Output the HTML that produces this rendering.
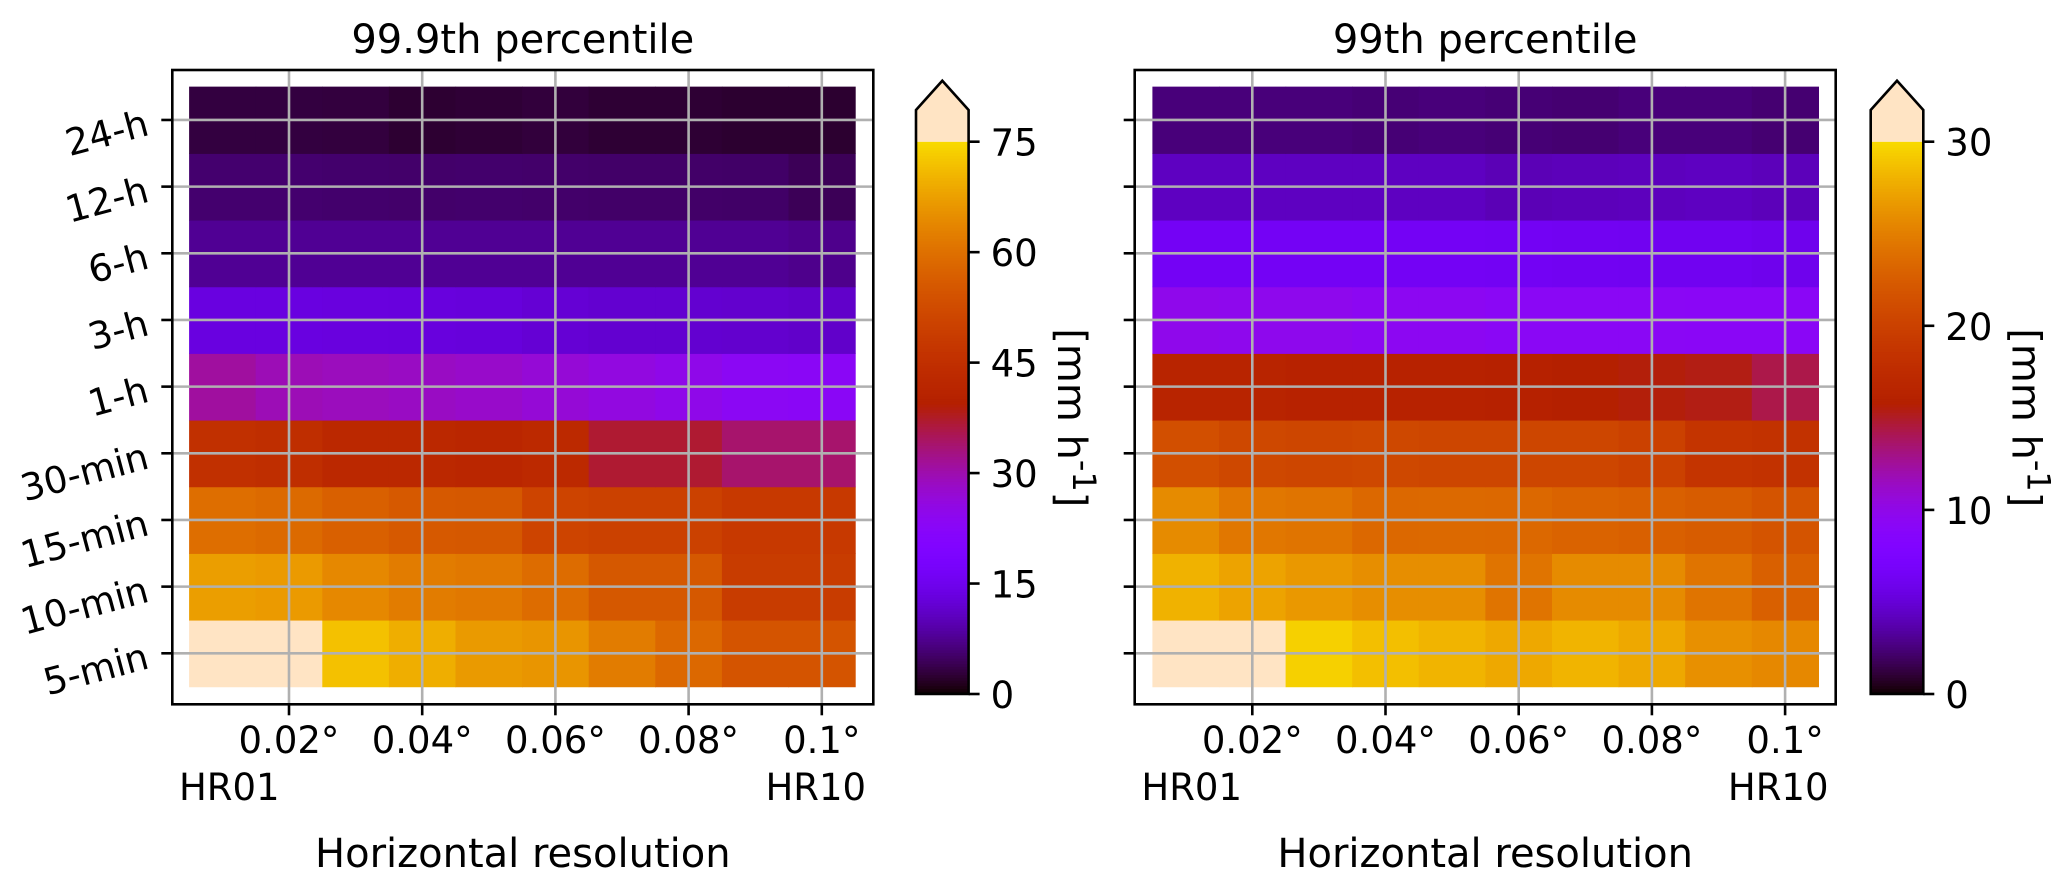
<!DOCTYPE html>
<html><head><meta charset="utf-8">
<style>
html,body{margin:0;padding:0;background:#fff;}
svg{display:block;font-family:"DejaVu Sans","Liberation Sans",sans-serif;}
</style></head>
<body>
<svg id="fig" width="2067" height="892" viewBox="0 0 2067 892" xmlns="http://www.w3.org/2000/svg"></svg>
<script>
// ---- data ----
const resolutions = [0.01,0.02,0.03,0.04,0.05,0.06,0.07,0.08,0.09,0.1];
const durations = ['5-min','10-min','15-min','30-min','1-h','3-h','6-h','12-h','24-h'];
const xTickValues = [0.02,0.04,0.06,0.08,0.1];
const xTickLabels = ['0.02°','0.04°','0.06°','0.08°','0.1°'];
const p999 = [
  [80,80,72,69.5,66.7,66,62,58.6,54.5,54.5],
  [67.3,66.8,64,62,61.4,59.3,55.3,55.3,48.7,48.7],
  [59.6,59,57,55.5,55.3,50.8,50,50,48,48],
  [45.4,44.5,42.6,42.6,42,43,37,37,34,34],
  [31,29.5,29,28.5,28,27,26,25,23.5,23],
  [13.5,13.5,13.3,13.2,13,12.3,12,12,11.8,11.5],
  [7.8,7.8,7.8,7.8,7.8,7.8,7.8,7.8,7.8,7.3],
  [5.6,5.6,5.5,5.4,5.5,5.4,5.3,5.3,5.2,4.4],
  [3.2,3.2,3.1,2.5,2.7,3.0,2.6,2.6,2.4,2.4]
];
const p99 = [
  [32,32,29.5,28.7,28.1,27.5,28.1,27.5,26.1,25.6],
  [28,27.2,26.6,26,26,24.3,25.8,25.8,24.3,22.8],
  [25.8,24.5,24.3,23.4,23.5,23.4,23.0,22.8,22.5,21.8],
  [21.4,20.7,20.5,20.7,20.5,20.5,20.5,20.0,18.6,18.3],
  [16.5,16.5,16.2,16.2,16.2,16.0,15.8,15.6,15.4,14.3],
  [9.9,9.8,9.8,9.5,9.5,9.3,9.3,9.3,9.2,9.2],
  [6.5,6.5,6.5,6.5,6.5,6.4,6.3,6.2,6.2,6.0],
  [4.3,4.3,4.3,4.3,4.3,4.0,4.1,4.2,4.3,4.1],
  [2.5,2.5,2.5,2.4,2.5,2.4,2.3,2.5,2.5,2.3]
];
const cbTicksLeft = [0,15,30,45,60,75];
const cbTicksRight = [0,10,20,30];

const NS='http://www.w3.org/2000/svg';
const svg=document.getElementById('fig');
function mk(tag,attrs,parent){const e=document.createElementNS(NS,tag);for(const k in attrs)e.setAttribute(k,attrs[k]);(parent||svg).appendChild(e);return e;}
function cmap(v,vmax){
  if(v>vmax) return 'rgb(255,228,196)';
  let t=Math.max(0,v/vmax)*0.95;
  const r=Math.sqrt(t), g=Math.pow(t,3), b=Math.max(0,Math.sin(2*Math.PI*t));
  return 'rgb('+Math.round(r*255)+','+Math.round(g*255)+','+Math.round(Math.min(1,b)*255)+')';
}

function panel(opts){
  const g=mk('g',{});
  
  
  const L=opts.left, R=L+701, T=70, B=704.3;
  const x0=opts.x002; const dx=66.6;
  const xScale=v=>x0+(v-0.02)/0.01*dx;
  const rowH=66.667;
  const yScale=i=>653.3-i*rowH;
  for(let i=0;i<durations.length;i++){
    for(let j=0;j<resolutions.length;j++){
      const cx=xScale(resolutions[j]);
      const c=mk('rect',{x:(cx-dx/2).toFixed(2),y:(yScale(i)-rowH/2).toFixed(2),width:(dx+0.6).toFixed(2),height:(rowH+0.6).toFixed(2),fill:cmap(opts.data[i][j],opts.vmax)},g);
      
      
    }
  }
  xTickValues.forEach((v,k)=>{
    const gl=mk('line',{x1:xScale(v),x2:xScale(v),y1:T,y2:B,stroke:'#b0b0b0','stroke-width':2.6},g);
    
    
    mk('line',{x1:xScale(v),x2:xScale(v),y1:B,y2:B+11,stroke:'#000','stroke-width':2.6},g);
    const tl=mk('text',{x:xScale(v),y:753,'font-size':37,'text-anchor':'middle',fill:'#000'},g);
    tl.textContent=xTickLabels[k];
    
    
  });
  durations.forEach((d,i)=>{
    const y=yScale(i);
    const gl=mk('line',{x1:L,x2:R,y1:y,y2:y,stroke:'#b0b0b0','stroke-width':2.6},g);
    
    
    mk('line',{x1:L-11,x2:L,y1:y,y2:y,stroke:'#000','stroke-width':2.6},g);
    if(opts.ylabels){
      const t=mk('text',{x:L-25,y:y+15,'font-size':37,'text-anchor':'end',fill:'#000',transform:'rotate(-15 '+(L-25)+' '+(y+2)+')'},g);
      t.textContent=d;
      
      
    }
  });
  const sp=mk('rect',{x:L,y:T,width:R-L,height:B-T,fill:'none',stroke:'#000','stroke-width':2.6},g);
  
  
  const tt=mk('text',{x:(L+R)/2,y:53,'font-size':40,'text-anchor':'middle'},g);
  tt.textContent=opts.title;
  
  
  const h1=mk('text',{x:L+57,y:800,'font-size':37,'text-anchor':'middle'},g);
  h1.textContent='HR01';
  
  
  const h2=mk('text',{x:L+643.5,y:800,'font-size':37,'text-anchor':'middle'},g);
  h2.textContent='HR10';
  
  
  const xl=mk('text',{x:(L+R)/2,y:867,'font-size':40,'text-anchor':'middle'},g);
  xl.textContent='Horizontal resolution';
  
  

  const cb=mk('g',{},g);
  
  
  const cL=opts.cbLeft, cR=cL+52.6, cT=141.7, cB=694, sh=110, ap=80.7;
  const cy=v=>cB-(v/opts.vmax)*(cB-cT);
  const N=200;
  for(let k=0;k<N;k++){
    const v0=opts.vmax*k/N, v1=opts.vmax*(k+1)/N;
    mk('rect',{x:cL,y:cy(v1).toFixed(2),width:cR-cL,height:(cy(v0)-cy(v1)+0.5).toFixed(2),fill:cmap((v0+v1)/2,opts.vmax)},cb);
  }
  mk('polygon',{points:cL+','+cT+' '+cL+','+sh+' '+((cL+cR)/2)+','+ap+' '+cR+','+sh+' '+cR+','+cT,fill:'rgb(255,228,196)'},cb);
  mk('polygon',{points:cL+','+cB+' '+cL+','+sh+' '+((cL+cR)/2)+','+ap+' '+cR+','+sh+' '+cR+','+cB,fill:'none',stroke:'#000','stroke-width':2.6},cb);
  opts.cbTicks.forEach(v=>{
    mk('line',{x1:cR,x2:cR+11,y1:cy(v),y2:cy(v),stroke:'#000','stroke-width':2.6},cb);
    const t=mk('text',{x:cR+22,y:cy(v)+14,'font-size':37},cb);
    t.textContent=String(v);
    
    
  });
  const lx=cL+142, ly=(cT+cB)/2;
  const cl=mk('text',{x:lx,y:ly,'font-size':40,'text-anchor':'middle',transform:'rotate(90 '+lx+' '+ly+')'},cb);
  cl.innerHTML='[mm h<tspan dy="-15" font-size="32">-1</tspan><tspan dy="15">]</tspan>';
  
  
}
panel({name:'panel-99-9th',left:172.3,x002:289,data:p999,vmax:75,title:'99.9th percentile',ylabels:true,cbLeft:916,cbTicks:cbTicksLeft});
panel({name:'panel-99th',left:1134.7,x002:1252.3,data:p99,vmax:30,title:'99th percentile',ylabels:false,cbLeft:1870.7,cbTicks:cbTicksRight});
</script>
</body></html>
